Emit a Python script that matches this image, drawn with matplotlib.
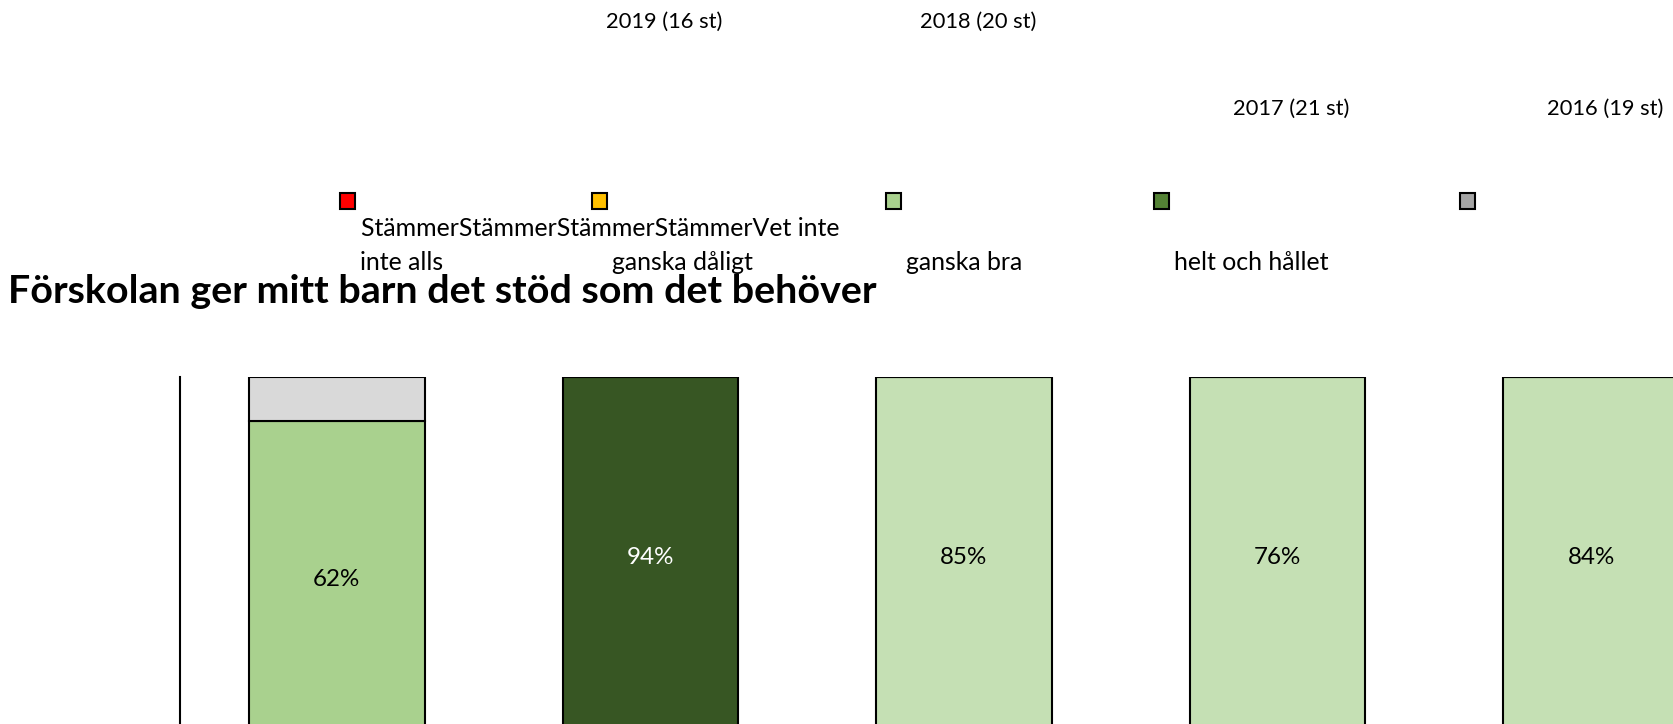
import matplotlib
matplotlib.use("Agg")
import matplotlib.pyplot as plt
from matplotlib.patches import Rectangle

# ---------------- data ----------------
title = "Förskolan ger mitt barn det stöd som det behöver"
year_labels = ["2019 (16 st)", "2018 (20 st)", "2017 (21 st)", "2016 (19 st)"]
legend_labels = ["Stämmer\ninte alls", "Stämmer\nganska dåligt", "Stämmer\nganska bra",
                 "Stämmer\nhelt och hållet", "Vet inte"]
legend_colors = ["#FF0000", "#FFC000", "#A9D18E", "#548235", "#A5A5A5"]
main_share = [62, 94, 85, 76, 84]          # labelled top segment of each bar (%)
vet_inte_share = [6, 0, 0, 0, 0]           # grey top segment (%)
main_colors = ["#A9D18E", "#375623", "#C5E0B4", "#C5E0B4", "#C5E0B4"]
label_colors = ["black", "white", "black", "black", "black"]
vet_inte_color = "#D9D9D9"

# ---------------- layout (pixels of the 1674x724 canvas) ----------------
W, H = 1674, 724
FONT = "Lato"
legend_x_px = [348, 600, 893.5, 1161.5, 1468]

def fx(px):
    return px / W

def fy(py):
    return 1 - py / H

fig = plt.figure(figsize=(W / 100, H / 100), dpi=100)
fig.patch.set_facecolor("white")
renderer = fig.canvas.get_renderer()

def fit(t, target_px):
    w = t.get_window_extent(renderer=renderer).width
    t.set_fontsize(t.get_fontsize() * target_px / w)

# plot area (extends below and right of the visible canvas, as in the reference)
ax_left, ax_right, ax_top, ax_bottom = 180, 1748, 377, 1110
ax = fig.add_axes([fx(ax_left), fy(ax_bottom), (ax_right - ax_left) / W, (ax_bottom - ax_top) / H])
ax.set_xlim(-0.5, 4.5)
ax.set_ylim(0, 100)
for s in ["top", "right", "bottom"]:
    ax.spines[s].set_visible(False)
ax.spines["left"].set_linewidth(1.5)
ax.set_xticks([])
ax.set_yticks([])
ax.patch.set_alpha(0)

x = list(range(len(main_share)))
bottoms_main = [100 - m - v for m, v in zip(main_share, vet_inte_share)]
bottoms_vet = [100 - v for v in vet_inte_share]
ax.bar(x, main_share, bottom=bottoms_main, width=0.56, color=main_colors,
       edgecolor="black", linewidth=1.5)
ax.bar(x, vet_inte_share, bottom=bottoms_vet, width=0.56, color=vet_inte_color,
       edgecolor="black", linewidth=1.5)

# labels centred in the visible part of each segment
y_clip = ax.transData.inverted().transform((0, H - 739))[1]
label_size = None
for i, (m, b) in enumerate(zip(main_share, bottoms_main)):
    top = b + m
    t = ax.text(i, (top + y_clip) / 2, f"{m}%", ha="center", va="center",
                color=label_colors[i], family=FONT, fontsize=13)
    if label_size is None:
        fit(t, 47)
        label_size = t.get_fontsize()
    else:
        t.set_fontsize(label_size)

# category labels (displaced, two rows)
rows_baseline = [27.5, 27.5, 114.5, 114.5]
ylab_size = None
for i, (lab, yb) in enumerate(zip(year_labels, rows_baseline)):
    t = ax.annotate(lab, xy=(i + 1, fy(yb)), xycoords=("data", "figure fraction"),
                    xytext=(14, 0), textcoords="offset pixels",
                    ha="center", va="baseline", family=FONT, fontsize=13,
                    annotation_clip=False)
    if ylab_size is None:
        fit(t, 116)
        ylab_size = t.get_fontsize()
    else:
        t.set_fontsize(ylab_size)

# legend (broken Excel-style layout)
first_lines = "".join(l.split("\n")[0] for l in legend_labels)
t1 = fig.text(fx(361), fy(236), first_lines, ha="left", va="baseline", family=FONT, fontsize=13)
fit(t1, 479)
leg_size = t1.get_fontsize()
for xp, lab, col in zip(legend_x_px, legend_labels, legend_colors):
    fig.patches.append(Rectangle((fx(xp - 7.5), fy(209)), 15 / W, 16 / H,
                                 transform=fig.transFigure, facecolor=col,
                                 edgecolor="black", linewidth=1.5))
    parts = lab.split("\n")
    if len(parts) > 1:
        fig.text(fx(xp + 12.5), fy(270), parts[1], ha="left", va="baseline",
                 family=FONT, fontsize=leg_size)

# title
tt = fig.text(fx(8.5), fy(303), title, ha="left", va="baseline", family=FONT,
              fontweight="bold", fontsize=24)
fit(tt, 868)

fig.savefig("out.png", dpi=100, facecolor="white")
